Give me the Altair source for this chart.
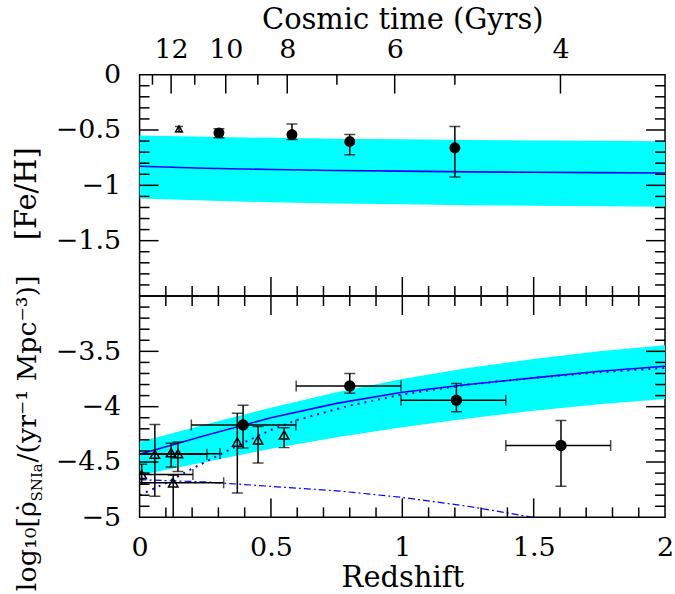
import altair as alt
import pandas as pd
import numpy as np

FONT = "DejaVu Serif"
W, H = 527, 222

# ---------------- top panel: [Fe/H] ----------------
band_z = [0.0, 0.25, 0.5, 0.75, 1.0, 1.25, 1.5, 1.75, 2.0]
fe_band_hi = [-0.550, -0.562, -0.571, -0.578, -0.584, -0.590, -0.594, -0.598, -0.601]
fe_band_lo = [-1.118, -1.138, -1.153, -1.165, -1.172, -1.179, -1.185, -1.189, -1.193]
fe_model = [-0.828, -0.845, -0.857, -0.866, -0.872, -0.878, -0.882, -0.885, -0.888]

fe_tri_z = [0.150]
fe_tri = [-0.490]
fe_tri_lo = [-0.515]
fe_tri_hi = [-0.468]

fe_z = [0.302, 0.580, 0.800, 1.200]
fe = [-0.526, -0.541, -0.604, -0.661]
fe_lo = [-0.570, -0.586, -0.723, -0.924]
fe_hi = [-0.488, -0.445, -0.541, -0.469]

# ---------------- bottom panel: SN Ia rate ----------------
sn_band_hi = [-4.32, -4.16, -4.01, -3.87, -3.75, -3.65, -3.57, -3.50, -3.445]
sn_band_lo = [-4.62, -4.50, -4.38, -4.276, -4.187, -4.106, -4.037, -3.978, -3.930]
sn_model = [-4.43, -4.26, -4.10, -3.97, -3.87, -3.80, -3.74, -3.68, -3.635]
sn_dashdot = [-4.66, -4.68, -4.72, -4.76, -4.82, -4.90, -5.00, -5.11, -5.24]
dot_z = [0.0, 0.1, 0.2, 0.3, 0.4, 0.5, 0.6, 0.8, 1.0, 1.25, 1.5, 1.75, 2.0]
sn_dotted = [-4.80, -4.69, -4.56, -4.44, -4.32, -4.21, -4.12, -3.99, -3.89, -3.80, -3.74, -3.69, -3.65]

tri_z = [0.008, 0.058, 0.120, 0.146, 0.128, 0.372, 0.451, 0.550]
tri = [-4.613, -4.430, -4.416, -4.425, -4.688, -4.320, -4.300, -4.255]
tri_lo = [-4.700, -4.810, -4.545, -4.585, -5.050, -4.780, -4.510, -4.370]
tri_hi = [-4.520, -4.160, -4.330, -4.320, -4.620, -4.060, -4.180, -4.190]
tri_xlo = [-0.19, -0.14, None, -0.014, -0.06, None, None, None]
tri_xhi = [0.203, 0.256, None, 0.306, 0.320, None, None, None]

sn_z = [0.394, 0.800, 1.206, 1.604]
sn = [-4.166, -3.813, -3.942, -4.351]
sn_lo = [-4.374, -3.879, -4.046, -4.718]
sn_hi = [-3.988, -3.700, -3.790, -4.124]
sn_xlo = [0.197, 0.596, 0.995, 1.394]
sn_xhi = [0.595, 0.995, 1.394, 1.793]

# ---------------- axes ----------------
cosmic_t = [13, 12, 11, 10, 9, 8, 7, 6, 5, 4]
cosmic_z = [0.049, 0.120, 0.210, 0.328, 0.450, 0.562, 0.751, 0.971, 1.200, 1.602]
cosmic_lab = ["12", "10", "8", "6", "4"]
cosmic_lab_z = [0.120, 0.328, 0.562, 0.971, 1.602]
z_labels = [0, 0.5, 1, 1.5, 2]
fe_labels = [0, -0.5, -1, -1.5]
sn_labels = [-3.5, -4, -4.5, -5]

xs = alt.Scale(domain=[0, 2], nice=False, zero=False)
ys_top = alt.Scale(domain=[-2, 0], nice=False, zero=False)
ys_bot = alt.Scale(domain=[-5, -3], nice=False, zero=False)

BLACK = "black"
BLUE = "#0000ff"
CYAN = "#00ffff"
MAJ, MIN = 19, 10

axis_common = dict(labelFont=FONT, titleFont=FONT, labelFontSize=27, titleFontSize=29,
                   labelColor=BLACK, titleColor=BLACK, titleFontWeight="normal",
                   ticks=False, tickSize=0, domain=False, grid=False,
                   labelFlush=False, labelOverlap=False)

labexpr = "[" + ",".join("'%s'" % s for s in cosmic_lab) + "][indexof([" + \
    ",".join(str(v) for v in cosmic_lab_z) + "], datum.value)]"
minus_expr = "datum.value < 0 ? '\u2212' + format(-datum.value, '~g') : format(datum.value, '~g')"

AX_TOP_X = alt.Axis(orient="top", values=cosmic_lab_z, labelExpr=labexpr,
                    title="Cosmic time (Gyrs)", labelPadding=17, labelBaseline="alphabetic",
                    titleY=-46, titleBaseline="alphabetic", **axis_common)
AX_TOP_Y = alt.Axis(orient="left", values=fe_labels, labelExpr=minus_expr, title="[Fe/H]",
                    labelPadding=19, titleX=-104, titleY=119, titleAngle=270,
                    titleBaseline="alphabetic", titleAlign="center", **axis_common)
AX_BOT_X = alt.Axis(orient="bottom", values=z_labels, format="~g",
                    title="Redshift", labelPadding=38, labelBaseline="alphabetic",
                    titleY=69, titleBaseline="alphabetic", **axis_common)
AX_BOT_Y = alt.Axis(orient="left", values=sn_labels, labelExpr=minus_expr, title="",
                    labelPadding=19, **axis_common)


def tick_df(lo, hi, majors):
    vals = np.round(np.arange(lo, hi + 1e-9, 0.1), 2)
    vals = [v for v in vals if lo + 1e-6 < v < hi - 1e-6]
    return pd.DataFrame({"v": vals, "major": [any(abs(v - m) < 1e-6 for m in majors) for v in vals]})


def frame_ticks(ys, axx, axy, ylo, yhi, ymaj, top_redshift=True, bottom_redshift=True):
    layers = []
    ydf = tick_df(ylo, yhi, ymaj)
    zdf = tick_df(0, 2, [0.5, 1.0, 1.5])
    for major, L in [(True, MAJ), (False, MIN)]:
        yd = ydf[ydf.major == major]
        zd = zdf[zdf.major == major]
        base_y = alt.Chart(yd).mark_rule(color=BLACK, strokeWidth=1.5)
        layers.append(base_y.encode(y=alt.Y("v:Q", scale=ys, axis=axy), x=alt.value(0), x2=alt.value(L)))
        layers.append(base_y.encode(y=alt.Y("v:Q", scale=ys, axis=axy), x=alt.value(W), x2=alt.value(W - L)))
        base_z = alt.Chart(zd).mark_rule(color=BLACK, strokeWidth=1.5)
        if top_redshift:
            layers.append(base_z.encode(x=alt.X("v:Q", scale=xs, axis=axx), y=alt.value(0), y2=alt.value(L)))
        if bottom_redshift:
            layers.append(base_z.encode(x=alt.X("v:Q", scale=xs, axis=axx), y=alt.value(H), y2=alt.value(H - L)))
    return layers


def errbars(df, ys, axx, axy, cap, xerr=False):
    layers = []
    layers.append(alt.Chart(df).mark_rule(color=BLACK, strokeWidth=1.5, clip=True).encode(
        x=alt.X("z:Q", scale=xs, axis=axx), y=alt.Y("lo:Q", scale=ys, axis=axy), y2="hi:Q"))
    layers.append(alt.Chart(df).transform_fold(["lo", "hi"], as_=["k", "yy"]).mark_tick(
        color=BLACK, thickness=1.5, size=cap, orient="horizontal", clip=True).encode(
        x=alt.X("z:Q", scale=xs, axis=axx), y=alt.Y("yy:Q", scale=ys, axis=axy)))
    if xerr:
        d = df.dropna(subset=["xlo"])
        layers.append(alt.Chart(d).mark_rule(color=BLACK, strokeWidth=1.5, clip=True).encode(
            x=alt.X("xlo:Q", scale=xs, axis=axx), x2="xhi:Q", y=alt.Y("v:Q", scale=ys, axis=axy)))
        layers.append(alt.Chart(d).transform_fold(["xlo", "xhi"], as_=["k", "xx"]).mark_tick(
            color=BLACK, thickness=1.5, size=cap, orient="vertical", clip=True).encode(
            x=alt.X("xx:Q", scale=xs, axis=axx), y=alt.Y("v:Q", scale=ys, axis=axy)))
    return layers


# ---------- top panel ----------
fe_band = pd.DataFrame({"z": band_z, "hi": fe_band_hi, "lo": fe_band_lo, "m": fe_model})
XT = dict(scale=xs, axis=AX_TOP_X)
YT = dict(scale=ys_top, axis=AX_TOP_Y)

top_band = alt.Chart(fe_band).mark_area(color=CYAN, opacity=1).encode(
    x=alt.X("z:Q", **XT), y=alt.Y("hi:Q", **YT), y2="lo:Q")
top_line = alt.Chart(fe_band).mark_line(color=BLUE, strokeWidth=1.6).encode(
    x=alt.X("z:Q", **XT), y=alt.Y("m:Q", **YT))

fe_tri_df = pd.DataFrame({"z": fe_tri_z, "v": fe_tri, "lo": fe_tri_lo, "hi": fe_tri_hi})
fe_df = pd.DataFrame({"z": fe_z, "v": fe, "lo": fe_lo, "hi": fe_hi})

top_layers = [top_band, top_line]
top_layers += errbars(fe_tri_df, ys_top, AX_TOP_X, AX_TOP_Y, 8)
top_layers.append(alt.Chart(fe_tri_df).mark_point(shape="triangle-up", filled=False, color=BLACK,
                                                  strokeWidth=1.5, size=45, opacity=1).encode(
    x=alt.X("z:Q", **XT), y=alt.Y("v:Q", **YT)))
top_layers += errbars(fe_df, ys_top, AX_TOP_X, AX_TOP_Y, 11)
top_layers.append(alt.Chart(fe_df).mark_circle(color=BLACK, size=120, opacity=1).encode(
    x=alt.X("z:Q", **XT), y=alt.Y("v:Q", **YT)))
top_layers += frame_ticks(ys_top, AX_TOP_X, AX_TOP_Y, -2, 0, [-0.5, -1.0, -1.5],
                          top_redshift=False, bottom_redshift=True)

ct = pd.DataFrame({"z": cosmic_z, "t": cosmic_t})
ct["major"] = ct.t % 2 == 0
top_layers.append(alt.Chart(ct[ct.major]).mark_rule(color=BLACK, strokeWidth=1.5).encode(
    x=alt.X("z:Q", **XT), y=alt.value(0), y2=alt.value(MAJ)))
top_layers.append(alt.Chart(ct[~ct.major]).mark_rule(color=BLACK, strokeWidth=1.5).encode(
    x=alt.X("z:Q", **XT), y=alt.value(0), y2=alt.value(MIN)))

top = alt.layer(*top_layers).properties(width=W, height=H)

# ---------- bottom panel ----------
sn_band = pd.DataFrame({"z": band_z, "hi": sn_band_hi, "lo": sn_band_lo, "m": sn_model, "dd": sn_dashdot})
dot_df = pd.DataFrame({"z": dot_z, "v": sn_dotted})
XB = dict(scale=xs, axis=AX_BOT_X)
YB = dict(scale=ys_bot, axis=AX_BOT_Y)

bot_band = alt.Chart(sn_band).mark_area(color=CYAN, opacity=1, clip=True).encode(
    x=alt.X("z:Q", **XB), y=alt.Y("hi:Q", **YB), y2="lo:Q")
bot_line = alt.Chart(sn_band).mark_line(color=BLUE, strokeWidth=1.6, clip=True).encode(
    x=alt.X("z:Q", **XB), y=alt.Y("m:Q", **YB))
bot_dd = alt.Chart(sn_band).mark_line(color=BLUE, strokeWidth=1.2, strokeDash=[7, 3, 2, 3], clip=True).encode(
    x=alt.X("z:Q", **XB), y=alt.Y("dd:Q", **YB))
bot_dot = alt.Chart(dot_df).mark_line(color=BLUE, strokeWidth=2, strokeDash=[2, 5], clip=True).encode(
    x=alt.X("z:Q", **XB), y=alt.Y("v:Q", **YB))

tri_df = pd.DataFrame({"z": tri_z, "v": tri, "lo": tri_lo, "hi": tri_hi,
                       "xlo": [np.nan if v is None else v for v in tri_xlo],
                       "xhi": [np.nan if v is None else v for v in tri_xhi]})
sn_df = pd.DataFrame({"z": sn_z, "v": sn, "lo": sn_lo, "hi": sn_hi, "xlo": sn_xlo, "xhi": sn_xhi})

bot_layers = [bot_band, bot_line, bot_dot, bot_dd]
bot_layers += errbars(tri_df, ys_bot, AX_BOT_X, AX_BOT_Y, 11, xerr=True)
bot_layers.append(alt.Chart(tri_df).mark_point(shape="triangle-up", filled=False, color=BLACK,
                                               strokeWidth=1.5, size=90, opacity=1, clip=True).encode(
    x=alt.X("z:Q", **XB), y=alt.Y("v:Q", **YB)))
bot_layers += errbars(sn_df, ys_bot, AX_BOT_X, AX_BOT_Y, 11, xerr=True)
bot_layers.append(alt.Chart(sn_df).mark_circle(color=BLACK, size=130, opacity=1).encode(
    x=alt.X("z:Q", **XB), y=alt.Y("v:Q", **YB)))
bot_layers += frame_ticks(ys_bot, AX_BOT_X, AX_BOT_Y, -5, -3, [-3.5, -4.0, -4.5],
                          top_redshift=True, bottom_redshift=True)

# rotated composite y title
one = pd.DataFrame({"a": [0]})
TX, TY = -104, 296
tA = "log\u2081\u2080[\u03c1\u0307"
tB = "SNIa"
tC = "/(yr\u207b\u00b9 Mpc\u207b\u00b3)]"
for txt, fs, dx, dy in [(tA, 27, 0, 0), (tB, 15, 90, 6), (tC, 27, 129, 0)]:
    bot_layers.append(alt.Chart(one).mark_text(angle=270, align="left", baseline="alphabetic", font=FONT,
                                               fontSize=fs, color=BLACK, dx=dx, dy=dy).encode(
        x=alt.value(TX), y=alt.value(TY), text=alt.value(txt)))

bottom = alt.layer(*bot_layers).properties(width=W, height=H)

chart = alt.vconcat(top, bottom, spacing=0, bounds="flush").configure_view(
    stroke=BLACK, strokeWidth=1.5).properties(
    padding={"left": 12, "top": 4, "right": 0, "bottom": 0}, background="white")

chart.save("out.html", embed_options={"renderer": "svg", "actions": False})
